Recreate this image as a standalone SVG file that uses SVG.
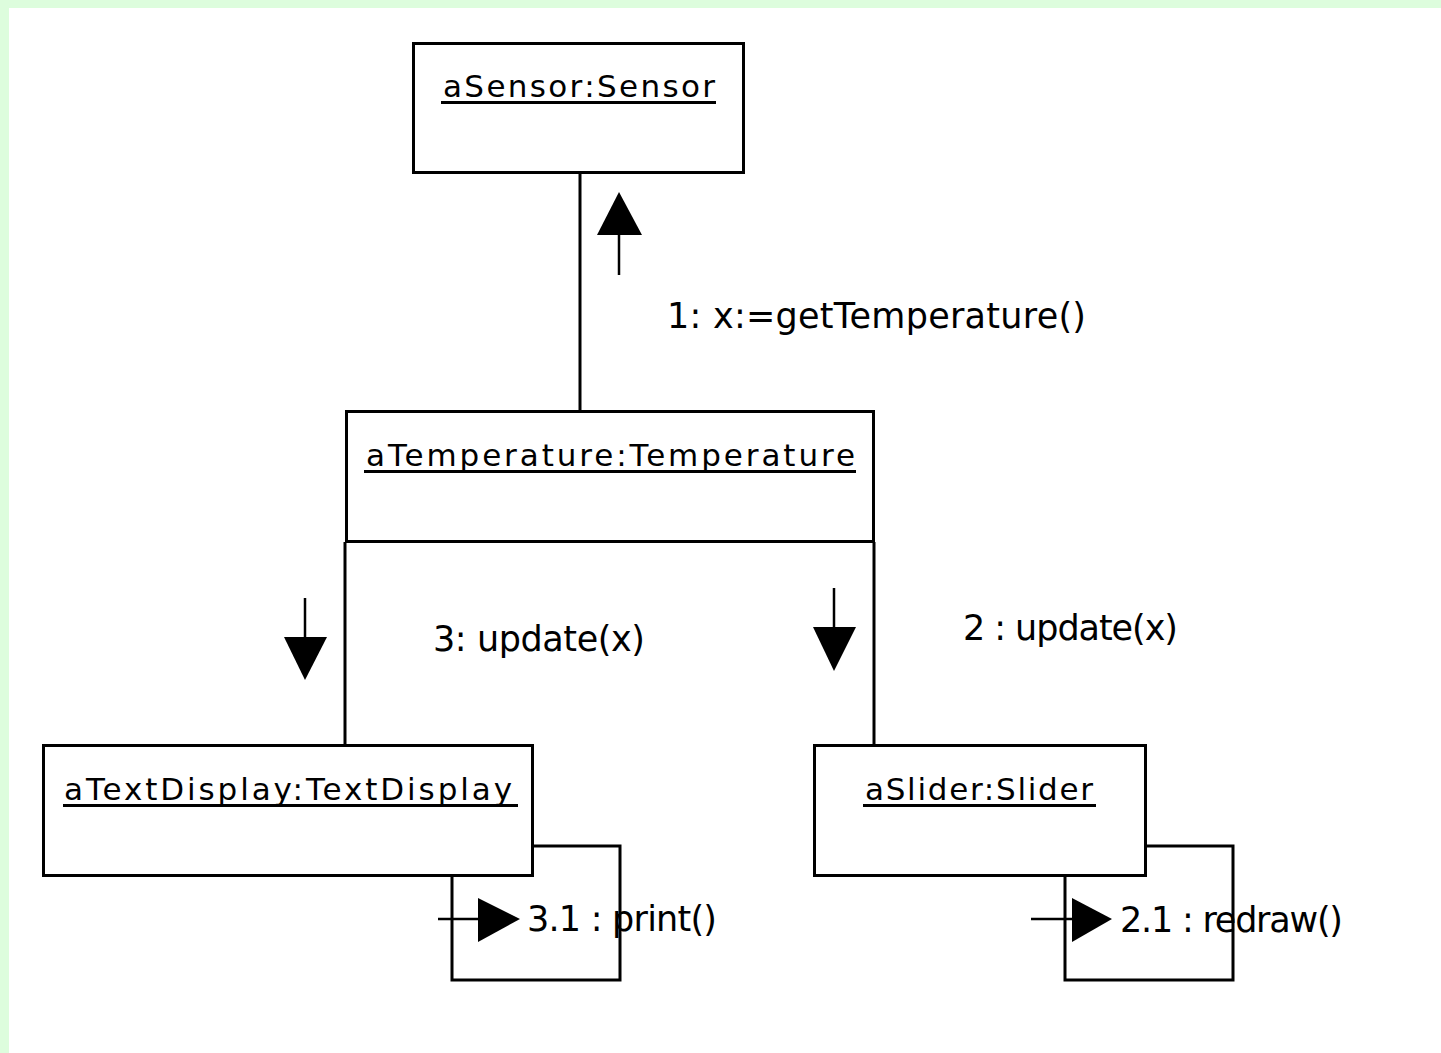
<svg xmlns="http://www.w3.org/2000/svg" width="1441" height="1053" viewBox="0 0 1441 1053">
<style>
.box{fill:#fff;stroke:#000;stroke-width:3}
.ln{fill:none;stroke:#000;stroke-width:3}
.thin{fill:none;stroke:#000;stroke-width:2.5}
.head{fill:#000;stroke:none}
.ul{stroke:#000;stroke-width:3}
.nt{font-family:"DejaVu Sans",sans-serif;font-size:31px;fill:#000}
.lt{font-family:"DejaVu Sans",sans-serif;font-size:35px;fill:#000}
</style>
<rect x="0" y="0" width="1441" height="1053" fill="#ddfddd"/>
<rect x="9" y="8" width="1432" height="1045" fill="#fff"/>

<g id="connectors">
  <line class="ln" x1="580" y1="173" x2="580" y2="410"/>
  <line class="ln" x1="345" y1="542" x2="345" y2="744"/>
  <line class="ln" x1="874" y1="542" x2="874" y2="744"/>
  <path class="ln" d="M534,846 H620 V980 H452 V877"/>
  <path class="ln" d="M1146,846 H1233 V980 H1065 V877"/>
  <g id="msg1">
    <line class="thin" x1="619" y1="232" x2="619" y2="275"/>
    <polygon class="head" points="619,192 642,235 597,235"/>
    <text class="lt" x="667" y="328" textLength="419" lengthAdjust="spacing">1: x:=getTemperature()</text>
  </g>
  <g id="msg3">
    <line class="thin" x1="305" y1="598" x2="305" y2="640"/>
    <polygon class="head" points="284,637 327,637 305,680"/>
    <text class="lt" x="433" y="651" textLength="212" lengthAdjust="spacing">3: update(x)</text>
  </g>
  <g id="msg2">
    <line class="thin" x1="834" y1="588" x2="834" y2="630"/>
    <polygon class="head" points="813,627 856,627 834,671"/>
    <text class="lt" x="963" y="640" textLength="215" lengthAdjust="spacing">2 : update(x)</text>
  </g>
  <g id="msg31">
    <line class="thin" x1="438" y1="919" x2="482" y2="919"/>
    <polygon class="head" points="478,898 520,919 478,942"/>
    <text class="lt" x="527" y="931" textLength="190" lengthAdjust="spacing">3.1 : print()</text>
  </g>
  <g id="msg21">
    <line class="thin" x1="1031" y1="919" x2="1075" y2="919"/>
    <polygon class="head" points="1072,898 1112,919 1072,942"/>
    <text class="lt" x="1120" y="932" textLength="223" lengthAdjust="spacing">2.1 : redraw()</text>
  </g>
</g>

<g id="aSensor">
  <rect class="box" x="413.5" y="43.5" width="330" height="129"/>
  <text class="nt" x="443" y="97" textLength="272" lengthAdjust="spacing">aSensor:Sensor</text>
  <line class="ul" x1="441" y1="102.5" x2="716" y2="102.5"/>
</g>

<g id="aTemperature">
  <rect class="box" x="346.5" y="411.5" width="527" height="130"/>
  <text class="nt" x="366" y="466" textLength="489" lengthAdjust="spacing">aTemperature:Temperature</text>
  <line class="ul" x1="364" y1="471.5" x2="856" y2="471.5"/>
</g>

<g id="aTextDisplay">
  <rect class="box" x="43.5" y="745.5" width="489" height="130"/>
  <text class="nt" x="64" y="800" textLength="448" lengthAdjust="spacing">aTextDisplay:TextDisplay</text>
  <line class="ul" x1="63" y1="805.5" x2="518" y2="805.5"/>
</g>

<g id="aSlider">
  <rect class="box" x="814.5" y="745.5" width="331" height="130"/>
  <text class="nt" x="865" y="800" textLength="228" lengthAdjust="spacing">aSlider:Slider</text>
  <line class="ul" x1="863" y1="805.5" x2="1096" y2="805.5"/>
</g>
</svg>
